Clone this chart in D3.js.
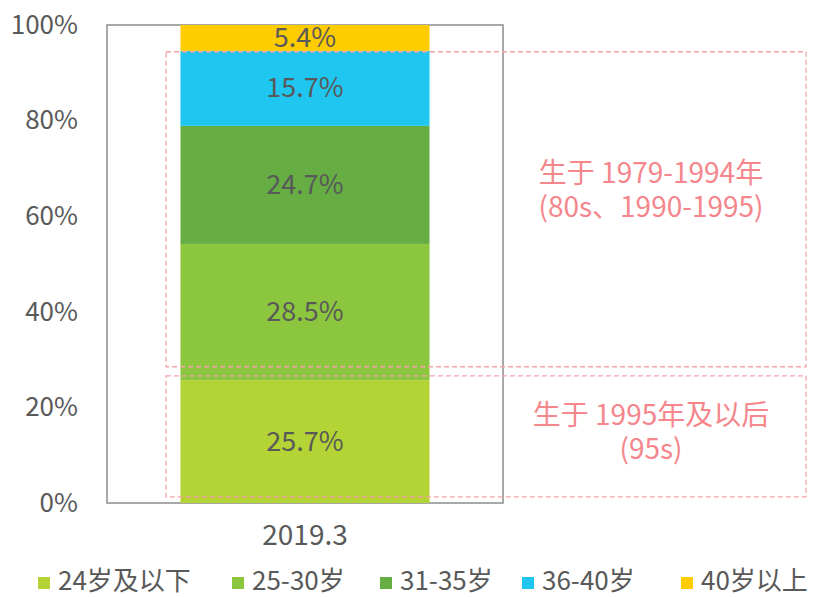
<!DOCTYPE html>
<html>
<head>
<meta charset="utf-8">
<script src="https://cdn.jsdelivr.net/npm/d3@7"></script>
<style>
  body { margin: 0; background: #fff; }
  svg text { font-family: "Noto Sans CJK SC", "Open Sans", sans-serif; }
</style>
</head>
<body>
<svg id="chart" width="817" height="597"></svg>
<script>
/* data */
const categories = ["2019.3"];
const seriesNames = ["24岁及以下", "25-30岁", "31-35岁", "36-40岁", "40岁以上"];
const seriesValues = [25.7, 28.5, 24.7, 15.7, 5.4];
const seriesColors = ["#b4d334", "#8cc63f", "#66ad44", "#1fc7f0", "#ffcc00"];
const yTicks = [0, 20, 40, 60, 80, 100];
const groupLabels = [
  ["生于 1979-1994年", "(80s、1990-1995)"],
  ["生于 1995年及以后", "(95s)"]
];

const svg = d3.select("#chart");
const plot = { left: 107, right: 503, top: 25, bottom: 503 };
const grey = "#595959";

const y = d3.scaleLinear().domain([0, 100]).range([plot.bottom, plot.top]);
const x = d3.scaleBand().domain(categories).range([plot.left, plot.right]).paddingInner(0).paddingOuter(0.295);

/* stacked segments */
let acc = 0;
const segs = seriesValues.map((v, i) => {
  const s = { name: seriesNames[i], v, y0: acc, y1: acc + v, color: seriesColors[i] };
  acc += v;
  return s;
});

/* plot frame */
svg.append("rect")
  .attr("x", plot.left).attr("y", plot.top)
  .attr("width", plot.right - plot.left).attr("height", plot.bottom - plot.top)
  .attr("fill", "none").attr("stroke", "#8c8c8c").attr("stroke-width", 1.5);

svg.append("g").selectAll("rect")
  .data(segs).join("rect")
  .attr("x", x(categories[0]))
  .attr("width", x.bandwidth())
  .attr("y", d => y(d.y1))
  .attr("height", d => y(d.y0) - y(d.y1))
  .attr("fill", d => d.color);

svg.append("g").selectAll("text")
  .data(segs).join("text")
  .attr("x", x(categories[0]) + x.bandwidth() / 2)
  .attr("y", d => (y(d.y0) + y(d.y1)) / 2 + 9)
  .attr("text-anchor", "middle")
  .attr("font-size", 27).attr("fill", grey)
  .text(d => d.v.toFixed(1) + "%");

/* y axis labels */
const yAxis = d3.axisLeft(y).tickValues(yTicks).tickFormat(d => d + "%").tickSize(0).tickPadding(29);
const yg = svg.append("g").attr("transform", `translate(${plot.left},0)`).call(yAxis);
yg.select(".domain").remove();
yg.selectAll("text").attr("font-size", 26).attr("fill", grey)
  .attr("font-family", "'Noto Sans CJK SC', 'Open Sans', sans-serif");

/* x axis label */
const xAxis = d3.axisBottom(x).tickSize(0).tickPadding(22);
const xg = svg.append("g").attr("transform", `translate(0,${plot.bottom})`).call(xAxis);
xg.select(".domain").remove();
xg.selectAll("text").attr("font-size", 28).attr("fill", grey)
  .attr("font-family", "'Noto Sans CJK SC', 'Open Sans', sans-serif");

/* dashed group boxes */
const boxes = [
  { top: 94.4, bottom: 28.5, lines: groupLabels[0], ty: 173 },
  { top: 26.6, bottom: 1.3, lines: groupLabels[1], ty: 415 }
];
boxes.forEach(b => {
  svg.append("rect")
    .attr("x", 166).attr("y", y(b.top))
    .attr("width", 806 - 166).attr("height", y(b.bottom) - y(b.top))
    .attr("fill", "none").attr("stroke", "#f4a3aa").attr("stroke-width", 1.3)
    .attr("stroke-dasharray", "5,3");
  svg.append("text")
    .attr("x", 651).attr("y", b.ty + 10)
    .attr("text-anchor", "middle")
    .attr("font-size", 28).attr("fill", "#f4868c")
    .selectAll("tspan").data(b.lines).join("tspan")
    .attr("x", 651).attr("dy", (d, i) => i === 0 ? 0 : 34)
    .text(d => d);
});

/* legend */
const legendX = [38, 232, 380, 522, 681];
const lg = svg.append("g").selectAll("g")
  .data(seriesNames).join("g")
  .attr("transform", (d, i) => `translate(${legendX[i]},583)`);
lg.append("rect").attr("x", 0).attr("y", -6).attr("width", 12).attr("height", 12)
  .attr("fill", (d, i) => seriesColors[i]);
lg.append("text").attr("x", 20).attr("y", 7)
  .attr("font-size", 26).attr("fill", grey)
  .text(d => d);
</script>
</body>
</html>
